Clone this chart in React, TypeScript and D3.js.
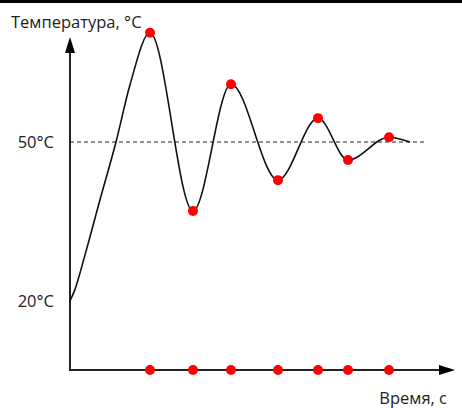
import React from "react";
import * as d3 from "d3";

// Time (s, arbitrary units) and temperature (°C) of the curve's key points
const curveTime = [0, 1.2, 3.75, 7.5, 11.5, 15, 20, 30.75, 40.25, 52, 62, 69.5, 79.75, 85];
const curveTemp = [20, 22.1, 28.7, 39.1, 50, 60.8, 70.6, 37.0, 60.9, 42.8, 54.5, 46.6, 50.9, 50];

// Extremum markers (time, temperature)
const extremaTime = [20, 30.75, 40.25, 52, 62, 69.5, 79.75];
const extremaTemp = [70.6, 37.0, 60.9, 42.8, 54.5, 46.6, 50.9];

const yTickValues = [20, 50];
const yTickLabels = ["20°C", "50°C"];
const yTitle = "Температура, °C";
const xTitle = "Время, с";
const steadyTemp = 50;

const W = 462;
const H = 408;

export default function App() {
  const x = d3.scaleLinear().domain([0, 96.25]).range([70, 455]);
  const y = d3.scaleLinear().domain([20, 50]).range([301, 142]);

  const x0 = x(0);
  const yBottom = 370;
  const yTop = 37;
  const xEnd = x(96.25);

  const pts: [number, number][] = curveTime.map((t, i) => [x(t), y(curveTemp[i])]);
  const line = d3
    .line<[number, number]>()
    .x((d) => d[0])
    .y((d) => d[1])
    .curve(d3.curveMonotoneX);

  const font = "'Open Sans', sans-serif";
  const axisColor = "#222";

  return (
    <svg
      width={W}
      height={H}
      style={{ position: "absolute", left: 0, top: 0, display: "block" }}
    >
      <rect x={0} y={0} width={W} height={H} fill="#fff" />
      <rect x={0} y={0} width={W} height={3} fill="#000" />

      {/* steady-state dashed line */}
      <line
        x1={x0}
        x2={424}
        y1={y(steadyTemp)}
        y2={y(steadyTemp)}
        stroke="#222"
        strokeWidth={1}
        strokeDasharray="4,3"
      />

      {/* axes */}
      <line x1={x0} x2={x0} y1={yBottom} y2={yTop + 14} stroke={axisColor} strokeWidth={2} />
      <path
        d={`M${x0},${yTop} L${x0 - 5},${yTop + 16} L${x0 + 5},${yTop + 16} Z`}
        fill="#000"
      />
      <line x1={x0 - 1} x2={xEnd - 14} y1={yBottom} y2={yBottom} stroke={axisColor} strokeWidth={2} />
      <path
        d={`M${xEnd},${yBottom} L${xEnd - 16},${yBottom - 5} L${xEnd - 16},${yBottom + 5} Z`}
        fill="#000"
      />

      {/* curve */}
      <path d={line(pts) || ""} fill="none" stroke="#111" strokeWidth={1.6} />

      {/* extrema markers */}
      {extremaTime.map((t, i) => (
        <circle key={"p" + i} cx={x(t)} cy={y(extremaTemp[i])} r={5} fill="#ff0000" />
      ))}
      {extremaTime.map((t, i) => (
        <circle key={"a" + i} cx={x(t)} cy={yBottom} r={5} fill="#ff0000" />
      ))}

      {/* labels */}
      {yTickValues.map((v, i) => (
        <text
          key={"t" + i}
          x={54}
          y={y(v) + 5.5}
          textAnchor="end"
          fontFamily={font}
          fontSize={16.5}
          fill="#222"
        >
          {yTickLabels[i]}
        </text>
      ))}
      <text x={11} y={28} fontFamily={font} fontSize={16.5} fill="#222">
        {yTitle}
      </text>
      <text x={447} y={404} textAnchor="end" fontFamily={font} fontSize={16.5} fill="#222">
        {xTitle}
      </text>
    </svg>
  );
}
